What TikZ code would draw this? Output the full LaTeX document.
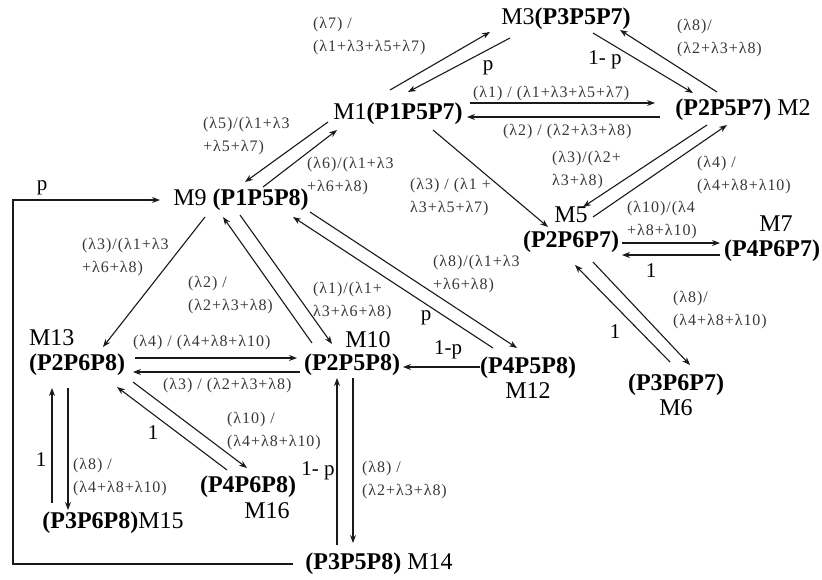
\documentclass[tikz,border=0pt]{standalone}
\usepackage{fontspec}
\setmainfont{Liberation Serif}
\newfontfamily\labfont[LetterSpace=6]{Liberation Serif}
\usetikzlibrary{arrows.meta}
\begin{document}
\begin{tikzpicture}[x=1pt,y=-1pt,
  st/.style={inner sep=0pt, align=center, font=\fontsize{24}{25}\selectfont},
  lb/.style={inner sep=0pt, anchor=west, align=left, text=black!78, font=\labfont\fontsize{16}{23}\selectfont},
  pl/.style={inner sep=0pt, font=\fontsize{21}{22}\selectfont},
  ed/.style={draw=black!90, line width=1.1pt, -{Stealth[length=8pt,width=6pt]}}
]
\useasboundingbox[fill=white] (0,0) rectangle (822,579);

% states
\node[st] (m3) at (566,19) {M3\textbf{(P3P5P7)}};
\node[st] (m1) at (398,114) {M1\textbf{(P1P5P7)}};
\node[st] (m2) at (743,110) {\textbf{(P2P5P7)} M2};
\node[st] (m9) at (241,200) {M9 \textbf{(P1P5P8)}};
\node[st] (m5) at (571,230) {M5\\\textbf{(P2P6P7)}};
\node[st] (m7) at (772,239) {\hspace*{8pt}M7\\\textbf{(P4P6P7)}};
\node[st, align=left] (m13) at (77,353) {M13\\\textbf{(P2P6P8)}};
\node[st] (m10) at (352,365) {\textbf{(P2P5P8)}};
\node[st] (m10n) at (368,340) {M10};
\node[st] (m12) at (528,378) {\textbf{(P4P5P8)}\\M12};
\node[st] (m6) at (676,395) {\textbf{(P3P6P7)}\\M6};
\node[st] (m16) at (248,487) {\textbf{(P4P6P8)}};
\node[st] (m16n) at (267,511) {M16};
\node[st] (m15) at (113,523) {\textbf{(P3P6P8)}M15};
\node[st] (m14) at (379,564) {\textbf{(P3P5P8)} M14};
\coordinate (cl) at (13,382);

% edges
\draw[ed] ([shift={(-8,-24)}]m1.center) -- ([shift={(-76,13)}]m3.center);
\draw[ed] ([shift={(-56,19)}]m3.center) -- ([shift={(10,-22)}]m1.center);
\draw[ed] ([shift={(27,14)}]m3.center) -- ([shift={(-50,-17)}]m2.center);
\draw[ed] ([shift={(-26,-18)}]m2.center) -- ([shift={(54,11)}]m3.center);
\draw[ed] ([shift={(72,-11)}]m1.center) -- ([shift={(-88,-7)}]m2.center);
\draw[ed] ([shift={(-83,7)}]m2.center) -- ([shift={(69,3)}]m1.center);
\draw[ed] ([shift={(-70,8)}]m1.center) -- ([shift={(4,-18)}]m9.center);
\draw[ed] ([shift={(22,-13)}]m9.center) -- ([shift={(-61,16)}]m1.center);
\draw[ed] ([shift={(35,16)}]m1.center) -- ([shift={(-23,-3)}]m5.center);
\draw[ed] ([shift={(22,-13)}]m5.center) -- ([shift={(-16,15)}]m2.center);
\draw[ed] ([shift={(-36,15)}]m2.center) -- ([shift={(12,-23)}]m5.center);
\draw[ed] ([shift={(51,13)}]m5.center) -- ([shift={(-52,4)}]m7.center);
\draw[ed] ([shift={(-52,16)}]m7.center) -- ([shift={(51,25)}]m5.center);
\draw[ed] ([shift={(22,32)}]m5.center) -- ([shift={(14,-30)}]m6.center);
\draw[ed] ([shift={(-6,-33)}]m6.center) -- ([shift={(4,35)}]m5.center);
\draw[ed] ([shift={(-36,17)}]m9.center) -- ([shift={(26,-6)}]m13.center);
\draw[ed] ([shift={(-1,15)}]m9.center) -- ([shift={(-20,-21)}]m10.center);
\draw[ed] ([shift={(-40,-22)}]m10.center) -- ([shift={(-18,17)}]m9.center);
\draw[ed] ([shift={(69,12)}]m9.center) -- ([shift={(-11,-30)}]m12.center);
\draw[ed] ([shift={(-35,-30)}]m12.center) -- ([shift={(52,17)}]m9.center);
\draw[ed] ([shift={(-48,-11)}]m12.center) -- ([shift={(51,2)}]m10.center);
\draw[ed] ([shift={(58,5)}]m13.center) -- ([shift={(-55,-7)}]m10.center);
\draw[ed] ([shift={(-52,7)}]m10.center) -- ([shift={(56,19)}]m13.center);
\draw[ed] ([shift={(56,29)}]m13.center) -- ([shift={(-1,-19)}]m16.center);
\draw[ed] ([shift={(-21,-17)}]m16.center) -- ([shift={(40,34)}]m13.center);
\draw[ed] ([shift={(-9,35)}]m13.center) -- ([shift={(-45,-13)}]m15.center);
\draw[ed] ([shift={(-61,-20)}]m15.center) -- ([shift={(-25,35)}]m13.center);
\draw[ed] ([shift={(1,13)}]m10.center) -- ([shift={(-26,-21)}]m14.center);
\draw[ed] ([shift={(-42,-19)}]m14.center) -- ([shift={(-15,13)}]m10.center);
\draw[ed] ([shift={(-86,0)}]m14.center) -| (cl) |- ([shift={(-81,0)}]m9.center);

% labels
\node[lb] (l1) at (313,36) {(λ7) /\\(λ1+λ3+λ5+λ7)};
\node[pl] (l2) at (488,68) {p};
\node[pl] (l3) at (605,60) {1- p};
\node[lb] (l4) at (677,38) {(λ8)/\\(λ2+λ3+λ8)};
\node[lb] (l5) at (473,94) {(λ1) / (λ1+λ3+λ5+λ7)};
\node[lb] (l6) at (503,132) {(λ2) / (λ2+λ3+λ8)};
\node[lb] (l7) at (203,136) {(λ5)/(λ1+λ3\\+λ5+λ7)};
\node[lb] (l8) at (307,176) {(λ6)/(λ1+λ3\\+λ6+λ8)};
\node[lb] (l9) at (410,197) {(λ3) / (λ1 +\\λ3+λ5+λ7)};
\node[lb] (l10) at (697,175) {(λ4) /\\(λ4+λ8+λ10)};
\node[lb] (l11) at (552,170) {(λ3)/(λ2+\\λ3+λ8)};
\node[lb] (l12) at (627,220) {(λ10)/(λ4\\+λ8+λ10)};
\node[pl] (l13) at (651,271) {1};
\node[lb] (l14) at (673,310) {(λ8)/\\(λ4+λ8+λ10)};
\node[pl] (l15) at (615,332) {1};
\node[lb] (l16) at (82,257) {(λ3)/(λ1+λ3\\+λ6+λ8)};
\node[lb] (l17) at (313,301) {(λ1)/(λ1+\\λ3+λ6+λ8)};
\node[lb] (l18) at (188,295) {(λ2) /\\(λ2+λ3+λ8)};
\node[lb] (l19) at (433,274) {(λ8)/(λ1+λ3\\+λ6+λ8)};
\node[pl] (l20) at (426,318) {p};
\node[pl] (l21) at (448,350) {1-p};
\node[lb] (l22) at (133,343) {(λ4) / (λ4+λ8+λ10)};
\node[lb] (l23) at (163,386) {(λ3) / (λ2+λ3+λ8)};
\node[lb] (l24) at (227,431) {(λ10) /\\(λ4+λ8+λ10)};
\node[pl] (l25) at (153,433) {1};
\node[lb] (l26) at (73,477) {(λ8) /\\(λ4+λ8+λ10)};
\node[pl] (l27) at (41,460) {1};
\node[lb] (l28) at (362,480) {(λ8) /\\(λ2+λ3+λ8)};
\node[pl] (l29) at (318,471) {1- p};
\node[pl] (l30) at (42,188) {p};
\end{tikzpicture}
\end{document}
